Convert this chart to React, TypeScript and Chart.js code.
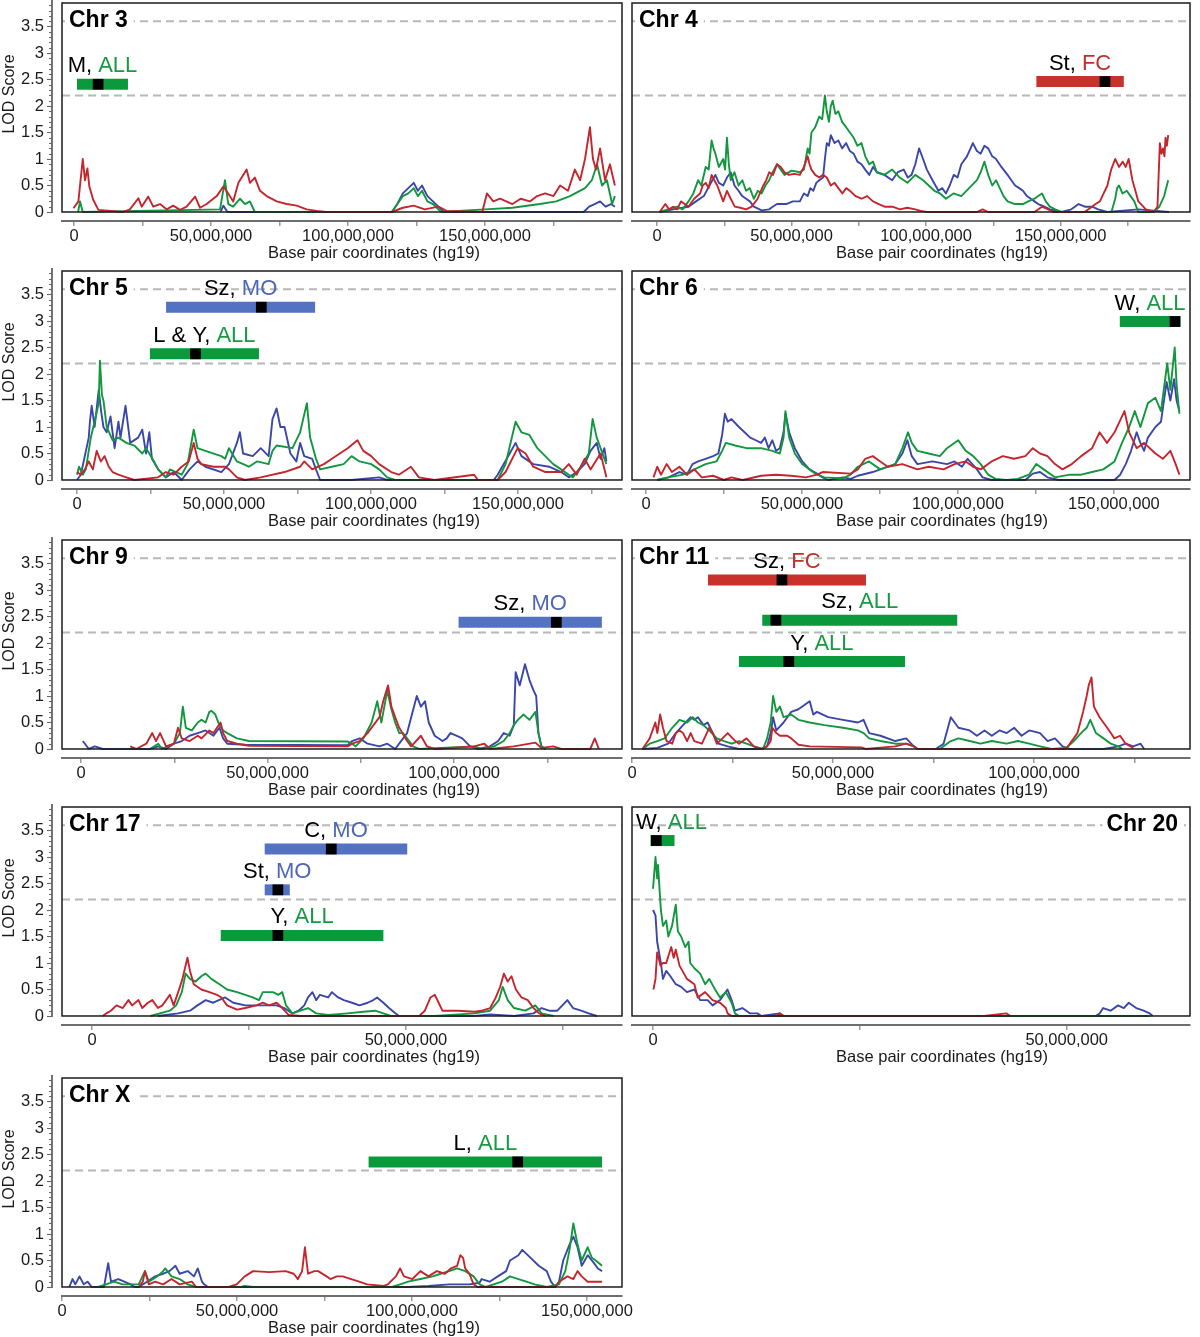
import React, { useEffect, useRef } from 'react';
import { Chart, registerables } from 'chart.js';

Chart.register(...registerables);

const FONT = '"Liberation Sans", Arial, Helvetica, sans-serif';
Chart.defaults.font.family = FONT;

type Pt = [number, number];
type Qtl = { start: number; end: number; peak: number; lod: number; trait: string; group: 'ALL' | 'FC' | 'MO' };

// ---------------- data (x in Mb, y = LOD) ----------------
const chr3Range = [-4.38, 200.0];
const chr3Red: Pt[] = [[-0.2,0.07],[1.6,0.2],[3.2,1.0],[4.0,0.6],[4.9,0.82],[5.6,0.48],[7.0,0.23],[8.9,0.04],[18,0],[20.4,0.05],[23.5,0.26],[24.7,0.1],[27.1,0.29],[28.9,0.1],[31.4,0.15],[33.8,0.05],[36.2,0.12],[38.7,0.04],[41.1,0.1],[44.2,0.29],[46,0.08],[48.4,0.15],[52.1,0.3],[54.5,0.48],[56.3,0.35],[58.1,0.2],[60,0.55],[63,0.8],[64.2,0.55],[66,0.65],[67.9,0.4],[70.3,0.3],[74,0.2],[77.6,0.15],[81.3,0.12],[84.9,0.05],[88.6,0.02],[92,0],[116,0],[120,0.08],[124,0.12],[128,0.05],[133,0.1],[136,0.02],[149,0],[150.7,0.35],[153,0.2],[155.5,0.25],[160,0.15],[163,0.25],[166.4,0.2],[169,0.3],[171.9,0.35],[175,0.3],[177.4,0.5],[180.3,0.4],[182.8,0.8],[184.7,0.6],[186.5,1.0],[188.3,1.6],[189.4,1.0],[190.5,0.8],[192,1.2],[193.8,0.6],[195.6,0.9],[197.4,0.5]];
const chr3Green: Pt[] = [[1.5,0],[2.2,0.2],[3.2,0],[53.3,0.05],[55.1,0.6],[56.3,0.15],[58.1,0.1],[60.6,0.25],[62.4,0.15],[64.2,0.2],[66,0],[116,0],[118,0.15],[120,0.3],[122,0.35],[124,0.45],[125.5,0.3],[127,0.4],[129,0.2],[131,0.15],[134,0],[150,0.05],[160,0.08],[170,0.15],[176,0.2],[181,0.3],[186.5,0.45],[189,0.6],[190.9,0.9],[192.7,0.5],[194.5,0.6],[196.4,0.15],[197.4,0.3]];
const chr3Blue: Pt[] = [[53.5,0],[54.5,0.12],[56,0],[116,0],[118,0.15],[120,0.35],[122,0.45],[124,0.55],[125.5,0.4],[127,0.5],[129,0.3],[131,0.2],[133,0.1],[135,0],[186,0],[188,0.1],[190,0.15],[192,0.2],[194,0.1],[196,0.15],[197.4,0.1]];
const chr3Qtl: Qtl[] = [{ start: 1.1, end: 19.7, peak: 8.8, lod: 2.41, trait: 'M', group: 'ALL' }];

const chr4Range = [-9.29, 198.1];
const chr4Red: Pt[] = [[1,0],[3.1,0.15],[4.5,0.05],[6,0.1],[7.5,0.05],[8.9,0.2],[10.3,0.15],[11.7,0.1],[13.8,0.25],[16,0.35],[17,0.5],[18.1,0.55],[19.2,0.45],[20.3,0.7],[21.3,0.6],[22.4,0.5],[23.5,0.35],[24.6,0.2],[25.3,0.3],[26,0.4],[27.4,0.25],[28.9,0.1],[31,0.08],[33.1,0.05],[35.2,0.1],[37.4,0.25],[39.5,0.5],[40.6,0.6],[41.7,0.75],[43.1,0.7],[44.6,0.9],[46,0.85],[47.4,0.75],[49,0.7],[51,0.72],[53.1,0.7],[54.6,0.85],[56,1.05],[56.7,0.9],[57.4,0.8],[58.8,0.7],[60.3,0.65],[61.7,0.7],[63.1,0.65],[64.6,0.5],[66,0.55],[67.4,0.45],[68.9,0.35],[70.3,0.45],[71.7,0.4],[73.8,0.3],[76,0.25],[78.1,0.3],[80.3,0.2],[82.4,0.15],[84.6,0.1],[87.5,0.1],[90.3,0.05],[93,0.08],[96,0.05],[98,0.02],[100.3,0],[118.9,0],[121,0.05],[123.1,0],[140.3,0],[143.1,0.1],[147.4,0],[158.9,0],[161.7,0.1],[163,0.15],[164.6,0.2],[166,0.35],[167.4,0.5],[168.8,0.8],[170.3,1.0],[171.7,0.85],[173.1,0.95],[174.2,0.85],[175.3,1.0],[176.7,0.6],[177.8,0.4],[178.9,0.2],[181.7,0.05],[184.6,0],[186,0.1],[186.9,1.3],[187.5,1.1],[188.1,1.2],[188.6,1.05],[189,1.4],[189.5,1.25],[190,1.45]];
const chr4Green: Pt[] = [[1,0],[4,0.05],[7.4,0.1],[9.5,0.05],[11.7,0.2],[13.5,0.35],[15.3,0.6],[16.5,0.5],[18.1,0.85],[19.2,0.8],[20.3,1.35],[21,1.2],[21.7,1.1],[23,0.85],[24.6,1.0],[25.3,0.8],[26,1.4],[26.7,0.9],[27.4,0.6],[28.8,0.75],[30.3,0.5],[31.7,0.6],[33.1,0.4],[34.5,0.45],[36,0.25],[37.5,0.4],[38.9,0.35],[40.3,0.5],[41.7,0.6],[43,0.75],[44.6,0.9],[46,0.8],[47.4,0.7],[50,0.78],[53.1,0.75],[54.6,0.8],[55.3,1.0],[56,1.2],[56.7,1.1],[57.4,1.5],[58.8,1.6],[60.3,1.8],[61.4,1.75],[62.4,2.2],[63.1,1.9],[63.9,1.7],[64.6,2.0],[65.3,2.1],[66.3,1.85],[67.4,1.9],[68.8,1.7],[70.3,1.6],[71.7,1.5],[73.1,1.4],[74.5,1.25],[76,1.3],[77.4,1.05],[78.9,0.9],[80.3,0.95],[81.7,0.75],[84.5,0.7],[87.4,0.8],[90.2,0.65],[93.1,0.55],[96,0.7],[98.9,0.6],[101,0.5],[103.1,0.4],[105.2,0.35],[107.4,0.25],[110.2,0.35],[113.1,0.3],[116,0.45],[118.9,0.6],[120.3,0.75],[121.7,0.95],[123.1,0.7],[124.6,0.5],[126,0.6],[127.4,0.45],[128.8,0.3],[130.3,0.2],[133,0.15],[136,0.15],[138,0.2],[140.3,0.25],[141.7,0.3],[143.1,0.35],[144.5,0.2],[146,0.1],[148,0.05],[150.3,0],[168.9,0],[170.3,0.25],[171,0.45],[171.7,0.5],[173,0.35],[174.6,0.4],[176,0.3],[177.4,0.2],[178.9,0],[184.6,0],[186.7,0.1],[188.5,0.3],[190,0.6]];
const chr4Blue: Pt[] = [[1,0],[6,0.05],[11.7,0.1],[14.5,0.2],[17.4,0.3],[19.5,0.5],[21.7,0.7],[23,0.55],[24.6,0.5],[26,0.65],[27.4,0.75],[28.8,0.5],[30.3,0.4],[31.7,0.3],[33.1,0.25],[34.5,0.2],[36,0.1],[38.9,0.03],[41.7,0.05],[43,0.1],[44.6,0.15],[48,0.15],[50.5,0.2],[53.1,0.2],[54.6,0.35],[56,0.3],[57,0.45],[58.1,0.4],[59.2,0.55],[60.3,0.6],[61.7,0.65],[62.4,1.0],[63.1,1.3],[63.9,1.25],[64.6,1.45],[66,1.3],[67.4,1.35],[68.8,1.2],[70.3,1.3],[71.7,1.15],[73.1,1.1],[74.5,0.95],[76,0.9],[77.4,0.8],[78.9,0.7],[80.3,0.85],[81.7,0.75],[84.5,0.7],[87.4,0.6],[89.5,0.75],[91.7,0.8],[93.2,0.65],[94.6,0.7],[96,0.9],[97.4,1.2],[98.9,1.0],[100.3,0.8],[102.4,0.6],[104.6,0.4],[106,0.45],[107.4,0.35],[108.8,0.5],[110.3,0.7],[111.7,0.65],[113.1,0.9],[115.2,1.05],[117.4,1.3],[118.9,1.15],[120.3,1.1],[121.7,1.25],[123.1,1.2],[124.6,1.05],[126,1.0],[128,0.85],[130.3,0.7],[131.7,0.6],[133.1,0.5],[134.6,0.45],[136,0.4],[137.5,0.3],[138.9,0.25],[140.3,0.2],[141.7,0.15],[144,0.1],[146,0.05],[150.3,0],[154,0.05],[156.7,0.15],[159,0.1],[161.7,0.1],[164,0.05],[167.4,0],[178.9,0.05],[190.3,0]];
const chr4Qtl: Qtl[] = [{ start: 141, end: 173.5, peak: 166.5, lod: 2.46, trait: 'St', group: 'FC' }];

const chr5Range = [-5.1, 185.4];
const chr5Red: Pt[] = [[0,0.15],[1.3,0.1],[2.7,0.2],[4.0,0.35],[5.4,0.2],[6.7,0.55],[8.1,0.35],[9.4,0.45],[10.8,0.25],[12.1,0.15],[14.1,0.1],[16.8,0.05],[19.5,0],[27.6,0.05],[30.2,0.15],[32.9,0.1],[35.6,0.25],[38.0,0.35],[39.7,0.7],[41.0,0.4],[42.3,0.3],[46.4,0.25],[50.4,0.25],[51.7,0.2],[54.4,0.05],[57.1,0],[62.5,0.05],[70.6,0.15],[75.9,0.25],[77.3,0.35],[80.0,0.2],[84.0,0.3],[86.7,0.4],[89.4,0.5],[92.1,0.6],[95.4,0.75],[97.4,0.55],[100.1,0.45],[102.8,0.3],[106.9,0.15],[109.5,0.1],[113.6,0.25],[116.3,0.05],[121.6,0],[135.1,0.1],[136.4,0],[143.1,0],[145.8,0.15],[148.5,0.45],[149.9,0.6],[152.6,0.5],[155.2,0.25],[159.3,0.15],[164.7,0.15],[167.3,0.3],[170.0,0.1],[172.7,0.4],[174.7,0.2],[178.1,0.5],[180.1,0.05]];
const chr5Green: Pt[] = [[0,0.1],[0.7,0.25],[2.0,0.1],[3.0,0.2],[4.7,0.8],[6.0,1.1],[7.4,1.45],[7.8,2.25],[8.5,1.6],[9.0,1.5],[10.1,1.0],[12.1,0.75],[14.1,0.8],[16.8,0.7],[19.5,0.65],[22.2,0.5],[23.5,0.6],[26.2,0.35],[27.6,0.2],[30.2,0.05],[31.6,0.2],[35.6,0.1],[37.6,0.3],[39.7,0.95],[41.0,0.6],[43.7,0.55],[49.1,0.45],[50.4,0.4],[51.7,0.6],[54.4,0.35],[58.5,0.25],[61.2,0.35],[65.2,0.3],[66.5,0.55],[67.9,0.65],[73.3,0.6],[75.9,0.9],[78.2,1.45],[79.3,0.8],[81.3,0.4],[82.7,0.2],[86.7,0.25],[90.7,0.3],[93.4,0.45],[96.1,0.35],[100.1,0.3],[102.8,0.2],[105.5,0.05],[108.2,0],[143.1,0],[145.8,0.3],[149.2,1.1],[151.2,0.9],[153.9,0.85],[156.6,0.6],[159.3,0.45],[162.0,0.3],[164.7,0.2],[167.3,0.1],[168.7,0.05],[171.4,0.25],[174.1,0.5],[175.4,1.15],[176.8,0.8],[180.1,0.3]];
const chr5Blue: Pt[] = [[0,0],[1.3,0.1],[4.0,0.8],[4.4,1.1],[5.0,1.4],[6.0,1.0],[7.4,1.7],[8.2,1.3],[9.0,1.0],[10.1,0.9],[11.4,1.2],[12.8,0.6],[14.1,1.1],[14.8,0.8],[16.5,1.4],[18.1,0.7],[20.8,0.8],[22.2,0.95],[23.5,0.5],[24.6,0.9],[25.5,0.4],[27.6,0.2],[30.2,0.05],[32.9,0.15],[35.6,0],[38.3,0.2],[41.0,0.35],[43.7,0.25],[49.1,0.15],[51.7,0.3],[54.4,0.7],[55.4,0.9],[56.5,0.5],[59.8,0.45],[62.5,0.6],[65.2,0.45],[66.5,1.15],[67.9,1.35],[69.2,1.0],[70.6,1.0],[72.6,0.5],[74.6,0.35],[75.9,0.7],[77.3,0.45],[80.0,0.4],[81.3,0.2],[82.7,0],[93.4,0],[102.8,0.05],[105.5,0],[141.8,0],[143.1,0.1],[147.2,0.5],[149.2,0.7],[151.2,0.45],[155.2,0.3],[160.6,0.25],[164.7,0.15],[167.3,0.05],[170.0,0.15],[172.7,0.3],[174.7,0.55],[176.8,0.7],[178.1,0.4],[179.4,0.6],[180.1,0.35]];
const chr5Qtl: Qtl[] = [
  { start: 30.3, end: 81, peak: 62.7, lod: 3.26, trait: 'Sz', group: 'MO' },
  { start: 24.8, end: 61.9, peak: 40.3, lod: 2.38, trait: 'L & Y', group: 'ALL' },
];

const chr6Range = [-4.49, 174.4];
const chr6Red: Pt[] = [[2.4,0.05],[3.6,0.25],[4.8,0.1],[6.6,0.3],[8.3,0.15],[10.7,0.25],[13.1,0.1],[15.5,0.2],[17.9,0.05],[21.5,0.08],[25.0,0],[27.4,0.05],[31.0,0],[36.9,0.08],[41.7,0.1],[46.5,0.08],[51.3,0.05],[54.8,0.1],[56.6,0.15],[65.6,0.12],[67.9,0.2],[70.3,0.4],[72.7,0.45],[75.1,0.35],[77.5,0.25],[82.2,0.3],[87.0,0.2],[90.6,0.25],[95.4,0.2],[98.9,0.3],[102.5,0.35],[104.9,0.25],[107.3,0.2],[110.8,0.35],[114.4,0.45],[118.0,0.4],[121.6,0.45],[124.0,0.6],[126.3,0.5],[128.7,0.45],[131.1,0.3],[133.5,0.2],[136.5,0.3],[139.5,0.45],[143.0,0.6],[145.4,0.9],[147.8,0.7],[150.2,0.9],[153.4,1.3],[154.9,0.9],[157.3,0.6],[159.7,0.7],[163.3,0.5],[165.7,0.4],[168.1,0.55],[169.8,0.3],[171.0,0.1]];
const chr6Green: Pt[] = [[3.6,0],[7.2,0.05],[11.9,0.1],[15.5,0.2],[19.1,0.3],[22.6,0.35],[24.4,0.55],[25.6,0.7],[28.6,0.65],[32.2,0.6],[36.9,0.6],[40.5,0.55],[42.9,0.5],[44.1,0.8],[44.7,1.3],[45.9,0.8],[47.7,0.5],[50.1,0.3],[52.4,0.2],[54.8,0.1],[57.2,0.05],[63.2,0.03],[65.6,0.1],[67.9,0.25],[71.5,0.35],[75.1,0.2],[79.9,0.3],[82.2,0.6],[84.0,0.9],[85.2,0.7],[87.0,0.55],[90.6,0.5],[94.2,0.45],[96.5,0.6],[100.1,0.75],[102.5,0.55],[104.9,0.45],[107.3,0.3],[109.7,0.1],[112.0,0.02],[115.6,0],[119.2,0.02],[122.8,0.1],[125.1,0.3],[127.5,0.2],[131.1,0.05],[135.9,0.1],[139.5,0.1],[143.0,0.15],[146.6,0.2],[150.2,0.35],[152.6,0.7],[154.9,1.0],[156.7,1.3],[158.5,1.0],[160.9,1.45],[163.3,1.55],[165.1,1.3],[167.1,2.2],[168.1,1.7],[169.5,2.5],[170.1,1.8],[171.0,1.25]];
const chr6Blue: Pt[] = [[3.6,0],[7.2,0.05],[10.7,0.15],[13.1,0.1],[14.9,0.3],[16.7,0.35],[19.1,0.4],[21.5,0.45],[23.2,0.5],[24.4,0.85],[25.3,1.25],[26.2,1.1],[27.4,1.15],[29.8,1.0],[31.6,0.9],[33.4,0.8],[35.2,0.75],[36.9,0.7],[38.1,0.8],[39.3,0.6],[40.5,0.75],[41.7,0.55],[42.9,0.6],[44.1,0.9],[44.7,1.25],[45.9,0.9],[47.7,0.6],[50.1,0.35],[52.4,0.2],[54.8,0.12],[56.6,0.05],[58.4,0],[63.2,0.05],[65.6,0.02],[67.9,0.08],[72.7,0.15],[75.1,0.2],[79.9,0.3],[82.2,0.5],[83.8,0.75],[85.2,0.45],[87.0,0.3],[91.8,0.35],[96.5,0.3],[98.9,0.35],[101.3,0.25],[103.1,0.4],[106.1,0.2],[107.9,0.05],[110.8,0],[121.6,0],[124.0,0.12],[126.3,0.15],[128.7,0.05],[132.3,0],[150.2,0],[152.0,0.1],[153.8,0.3],[155.5,0.55],[157.3,0.9],[158.5,0.7],[159.7,0.55],[160.9,0.8],[163.3,1.0],[165.1,1.1],[166.9,1.85],[168.1,1.5],[169.3,1.9],[170.1,1.5],[171.0,1.3]];
const chr6Qtl: Qtl[] = [{ start: 151.9, end: 171.3, peak: 169.6, lod: 2.99, trait: 'W', group: 'ALL' }];

const chr9Range = [-5.09, 145.0];
const chr9Red: Pt[] = [[13.2,0.05],[14.8,0],[17.5,0.1],[19.1,0.3],[20.1,0.15],[21.2,0.3],[22.8,0.05],[24.9,0.1],[26.0,0.4],[27.0,0.2],[29.1,0.15],[31.3,0.25],[32.3,0.2],[34.4,0.35],[35.5,0.3],[37.4,0.5],[38.1,0.3],[39.2,0.15],[41.8,0.1],[45.0,0.06],[71.5,0.05],[72.6,0.1],[74.7,0.15],[76.8,0.3],[78.4,0.45],[80.0,0.6],[81.0,0.9],[82.3,1.2],[83.2,0.8],[84.2,0.6],[85.3,0.4],[87.4,0.15],[88.5,0.05],[91.1,0.25],[92.7,0.05],[94.8,0],[105.4,0.05],[108.1,0.1],[109.6,0],[116.0,0.05],[121.8,0.12],[123.4,0.02],[126.6,0.05],[128.7,0],[136.5,0],[137.7,0.2],[138.8,0]];
const chr9Green: Pt[] = [[18.5,0],[20.7,0.1],[21.7,0],[24.9,0.1],[26.5,0.3],[27.3,0.8],[28.1,0.4],[29.7,0.35],[31.3,0.5],[32.3,0.55],[33.4,0.5],[34.4,0.7],[35.0,0.72],[36.0,0.65],[37.1,0.45],[38.1,0.35],[39.2,0.3],[41.8,0.2],[45.0,0.15],[71.5,0.14],[72.6,0.1],[73.6,0.05],[75.7,0.2],[77.9,0.5],[79.4,0.9],[80.5,0.5],[82.1,1.1],[83.2,0.75],[84.2,0.5],[85.3,0.3],[86.3,0.3],[87.4,0.2],[89.0,0.05],[90.6,0],[105.4,0.05],[107.5,0],[110.7,0.05],[113.3,0.15],[114.9,0.3],[116.0,0.45],[117.1,0.55],[118.6,0.65],[120.2,0.55],[121.8,0.7],[122.6,0.3],[123.4,0.05],[124.5,0]];
const chr9Blue: Pt[] = [[0.5,0.15],[2.1,0],[3.7,0.05],[5.8,0],[18.5,0],[20.7,0.05],[22.8,0],[24.9,0.1],[27.0,0.15],[29.1,0.25],[31.3,0.3],[33.4,0.35],[35.5,0.25],[37.1,0.4],[38.1,0.2],[39.2,0.1],[44.0,0.08],[71.5,0.07],[72.6,0.15],[74.7,0.2],[76.8,0.1],[80.0,0.05],[82.1,0.1],[84.2,0],[87.4,0.3],[88.5,0.6],[90.0,1.0],[91.1,0.8],[92.2,0.9],[93.2,0.5],[94.8,0.25],[96.9,0.15],[98.0,0.2],[99.0,0.3],[100.6,0.25],[102.2,0.2],[104.3,0.05],[106.5,0],[109.6,0.05],[111.8,0.15],[113.3,0.3],[114.9,0.25],[116.0,0.45],[116.5,1.45],[117.6,1.2],[119.0,1.6],[120.2,1.3],[121.3,1.1],[122.0,1.0],[122.6,0.3],[123.4,0.05],[124.5,0]];
const chr9Qtl: Qtl[] = [{ start: 101.2, end: 139.6, peak: 127.4, lod: 2.39, trait: 'Sz', group: 'MO' }];

const chr11Range = [0, 138.8];
const chr11Red: Pt[] = [[2.6,0],[3.5,0.1],[4.4,0.2],[5.8,0.5],[6.3,0.3],[7.0,0.65],[7.7,0.4],[8.6,0.15],[10.0,0.1],[10.9,0.3],[11.8,0.35],[12.7,0.3],[13.7,0.15],[14.6,0.3],[15.5,0.15],[17.4,0.1],[19.2,0.4],[20.1,0.3],[21.1,0.1],[22.5,0.2],[23.8,0.3],[25.7,0.15],[26.6,0.1],[28.5,0.2],[30.3,0.05],[32.2,0],[33.6,0.05],[34.5,0.15],[34.9,0.4],[35.9,0.3],[36.8,0.25],[38.6,0.25],[39.6,0.2],[41.4,0.08],[44.2,0.05],[57.1,0.03],[58.1,0],[65.5,0.05],[68.2,0.1],[70.1,0.05],[71.0,0],[108.0,0],[108.9,0.1],[110.8,0.3],[112.2,0.7],[113.1,1.0],[113.6,1.2],[114.3,1.35],[114.9,0.8],[116.3,0.6],[118.2,0.4],[119.1,0.3],[120.0,0.2],[121.4,0.25],[122.8,0.1],[124.7,0.02]];
const chr11Green: Pt[] = [[2.6,0],[4.4,0.1],[6.3,0.15],[8.1,0.2],[10.0,0.4],[11.8,0.55],[13.7,0.5],[15.1,0.6],[16.4,0.5],[17.8,0.45],[19.2,0.35],[21.1,0.2],[22.9,0.15],[24.8,0.1],[26.6,0.15],[28.5,0.1],[30.3,0.05],[32.6,0],[33.6,0.2],[34.5,0.5],[35.1,1.0],[35.9,0.7],[36.8,0.8],[37.7,0.6],[39.6,0.65],[41.4,0.55],[44.2,0.5],[47.9,0.45],[52.5,0.4],[56.2,0.35],[57.6,0.3],[59.0,0.2],[61.8,0.15],[65.5,0.1],[68.2,0.1],[70.1,0.05],[71.0,0],[76.6,0],[77.5,0.05],[79.3,0.15],[81.2,0.2],[84.0,0.15],[86.7,0.1],[89.5,0.15],[93.2,0.1],[96.0,0.15],[98.8,0.1],[101.5,0.05],[104.3,0],[108.0,0.02],[109.9,0.15],[111.7,0.3],[113.1,0.4],[114.0,0.55],[115.4,0.3],[117.3,0.2],[119.1,0.1],[121.0,0.05],[121.9,0]];
const chr11Blue: Pt[] = [[2.6,0],[6.3,0.02],[9.0,0.1],[10.9,0.3],[12.7,0.45],[14.6,0.6],[15.5,0.55],[16.4,0.6],[17.8,0.45],[18.8,0.5],[20.1,0.3],[21.5,0.1],[23.8,0.05],[26.6,0],[32.2,0],[33.6,0.05],[34.5,0.3],[35.1,0.6],[35.9,0.35],[37.7,0.5],[39.6,0.7],[41.4,0.75],[44.2,0.9],[45.1,0.65],[46.0,0.7],[48.8,0.6],[52.5,0.55],[56.2,0.5],[57.6,0.55],[59.0,0.3],[61.8,0.25],[65.5,0.15],[68.2,0.2],[70.1,0.05],[71.0,0],[75.6,0],[77.5,0.1],[79.3,0.6],[81.2,0.4],[84.0,0.35],[85.8,0.25],[87.7,0.35],[89.5,0.25],[91.4,0.35],[93.2,0.3],[95.1,0.4],[96.9,0.25],[98.8,0.35],[101.5,0.3],[103.4,0.15],[105.2,0.2],[107.1,0.05],[108.9,0],[117.3,0],[121.0,0.05],[122.8,0.1],[124.7,0.05],[126.5,0.1],[127.4,0]];
const chr11Qtl: Qtl[] = [
  { start: 18.9, end: 58.2, peak: 37.3, lod: 3.19, trait: 'Sz', group: 'FC' },
  { start: 32.4, end: 80.9, peak: 35.8, lod: 2.43, trait: 'Sz', group: 'ALL' },
  { start: 26.6, end: 67.9, peak: 39.0, lod: 1.65, trait: 'Y', group: 'ALL' },
];

const chr17Range = [-4.78, 84.4];
const chr17Red: Pt[] = [[1.7,0],[2.3,0.05],[3.0,0.1],[3.9,0.2],[4.9,0.15],[5.8,0.3],[6.4,0.2],[7.4,0.3],[8.0,0.15],[8.9,0.25],[9.6,0.3],[10.5,0.15],[11.2,0.2],[11.8,0.3],[12.4,0.4],[13.0,0.2],[14.0,0.55],[14.4,0.7],[15.2,1.1],[15.6,0.85],[16.2,0.6],[17.4,0.5],[18.7,0.45],[19.9,0.4],[20.6,0.35],[21.5,0.2],[23.1,0.12],[24.4,0.15],[26.2,0.2],[27.2,0.25],[28.2,0.2],[29.4,0.25],[30.3,0.15],[31.3,0.02],[33.2,0],[52.1,0],[53.0,0.1],[53.9,0.35],[54.6,0.4],[55.2,0.25],[55.8,0.1],[58.3,0.1],[60.9,0.08],[62.1,0.1],[63.4,0.15],[64.3,0.35],[65.0,0.55],[65.6,0.8],[66.2,0.65],[66.8,0.75],[67.5,0.5],[68.4,0.35],[69.4,0.3],[70.3,0.15],[71.2,0.05],[72.2,0]];
const chr17Green: Pt[] = [[9.3,0],[12.4,0.1],[13.4,0.2],[14.3,0.45],[14.9,0.8],[15.6,0.7],[16.5,0.65],[17.4,0.75],[18.1,0.8],[19.0,0.7],[20.3,0.6],[21.5,0.5],[23.1,0.45],[24.4,0.4],[25.6,0.35],[26.6,0.3],[27.2,0.45],[28.8,0.45],[29.7,0.4],[30.3,0.45],[30.9,0.2],[31.9,0.05],[33.2,0.1],[34.4,0.15],[35.7,0.05],[37.6,0.02],[40.7,0.05],[43.2,0.08],[45.1,0.1],[46.4,0.05],[47.6,0],[54.6,0],[60.9,0.05],[63.4,0.1],[64.8,0.3],[65.4,0.55],[66.2,0.3],[67.2,0.15],[69.0,0.1],[70.6,0.2],[71.6,0.05],[73.5,0]];
const chr17Blue: Pt[] = [[10.5,0],[13.7,0.05],[15.6,0.1],[16.8,0.2],[18.1,0.3],[19.3,0.25],[21.2,0.35],[22.5,0.25],[24.4,0.2],[29.4,0.2],[30.6,0.15],[31.9,0.05],[32.9,0.1],[33.8,0.2],[34.4,0.35],[35.1,0.45],[35.7,0.3],[36.3,0.4],[37.6,0.35],[38.2,0.45],[39.2,0.35],[40.1,0.3],[41.4,0.25],[42.6,0.2],[43.9,0.25],[44.8,0.3],[45.4,0.35],[46.4,0.25],[47.3,0.15],[48.3,0.05],[48.9,0],[60.9,0],[63.4,0.03],[67.2,0],[70.3,0.05],[71.6,0.15],[72.8,0.1],[74.1,0.1],[75.7,0.3],[76.6,0.15],[77.9,0.1],[79.1,0.05],[80.4,0]];
const chr17Qtl: Qtl[] = [
  { start: 27.5, end: 50.2, peak: 38.1, lod: 3.15, trait: 'C', group: 'MO' },
  { start: 27.5, end: 31.5, peak: 29.6, lod: 2.38, trait: 'St', group: 'MO' },
  { start: 20.5, end: 46.4, peak: 29.6, lod: 1.52, trait: 'Y', group: 'ALL' },
];

const chr20Range = [-2.54, 64.9];
const chr20Red: Pt[] = [[0.05,0.5],[0.3,0.7],[0.5,1.2],[0.9,0.95],[1.2,1.0],[1.6,1.0],[2.2,1.3],[2.5,1.1],[2.75,1.25],[3.2,0.95],[4.1,0.7],[5.0,0.6],[5.4,0.35],[6.3,0.45],[7.2,0.3],[8.1,0.25],[8.8,0.15],[9.0,0.05],[9.5,0],[14.9,0],[15.3,0.05],[15.8,0],[40.0,0],[42.7,0.05],[43.2,0]];
const chr20Green: Pt[] = [[0,2.4],[0.3,3.0],[0.5,2.6],[0.6,2.85],[0.95,2.0],[1.2,1.7],[1.6,1.8],[1.85,1.5],[2.3,1.7],[2.75,2.1],[3.0,1.6],[3.4,1.5],[3.9,1.3],[4.3,1.4],[4.5,1.0],[5.0,0.9],[5.7,0.8],[6.3,0.6],[6.8,0.7],[7.5,0.5],[8.1,0.35],[8.8,0.45],[9.5,0.25],[9.9,0.05],[10.4,0],[60,0]];
const chr20Blue: Pt[] = [[0,2.0],[0.3,1.9],[0.5,1.4],[0.95,1.0],[1.2,0.7],[1.6,0.85],[2.1,0.75],[2.75,0.6],[3.4,0.55],[4.1,0.45],[5.0,0.5],[5.7,0.3],[6.6,0.3],[7.2,0.2],[8.1,0.3],[9.0,0.5],[9.5,0.3],[9.9,0.1],[10.8,0.15],[11.7,0.05],[12.6,0.05],[13.1,0],[15.3,0.05],[15.8,0],[53.5,0],[54.0,0.05],[54.4,0.15],[55.3,0.1],[56.2,0.2],[56.9,0.15],[57.5,0.25],[58.4,0.15],[59.3,0.1],[60.0,0.05],[60.4,0]];
const chr20Qtl: Qtl[] = [{ start: -0.3, end: 2.6, peak: 0.4, lod: 3.31, trait: 'W', group: 'ALL' }];

const chrXRange = [0, 160];
const chrXRed: Pt[] = [[21.9,0],[23.1,0.1],[23.7,0.3],[24.8,0.05],[26.6,0.1],[28.9,0.05],[31.3,0.15],[33.6,0.05],[37.1,0.1],[38.3,0],[47.6,0],[49.9,0.05],[52.2,0.2],[54.6,0.3],[59.2,0.28],[63.9,0.3],[66.2,0.25],[67.4,0.15],[68.6,0.3],[69.4,0.75],[70.3,0.25],[72.1,0.3],[73.2,0.3],[75.6,0.2],[76.7,0.15],[78.5,0.2],[80.2,0.2],[82.6,0.15],[84.9,0.1],[87.2,0.05],[91.9,0.02],[93.1,0.05],[95.4,0.2],[96.6,0.35],[97.7,0.2],[100.1,0.15],[102.4,0.3],[104.7,0.2],[107.1,0.3],[109.4,0.25],[111.1,0.35],[112.9,0.4],[113.8,0.6],[114.6,0.55],[115.2,0.35],[116.4,0.25],[117.6,0.05],[118.7,0],[140.9,0],[142.0,0.1],[144.4,0.2],[146.1,0.15],[147.3,0.3],[148.5,0.2],[150.2,0.1],[154.3,0.1]];
const chrXGreen: Pt[] = [[10.3,0],[12.6,0.05],[14.9,0.1],[17.3,0.05],[21.9,0.05],[23.7,0.3],[24.8,0.1],[27.2,0.2],[28.9,0.3],[29.5,0.35],[31.3,0.2],[33.6,0.15],[35.9,0.05],[38.3,0],[51.1,0],[52.2,0.02],[54.6,0],[94.2,0],[96.6,0.05],[98.9,0.1],[102.4,0.15],[105.9,0.2],[108.2,0.25],[110.6,0.3],[112.9,0.35],[115.2,0.3],[117.6,0.2],[119.3,0.05],[121.0,0],[125.7,0.1],[128.0,0.2],[130.4,0.15],[132.7,0.1],[135.0,0.05],[138.5,0],[142.0,0.05],[143.8,0.3],[145.0,0.7],[146.1,1.2],[147.3,0.8],[148.5,0.5],[150.2,0.75],[151.4,0.55],[152.5,0.5],[154.3,0.4]];
const chrXBlue: Pt[] = [[2.1,0],[3.0,0.15],[3.8,0.05],[5.0,0.2],[6.2,0.05],[7.3,0.1],[8.5,0],[12.0,0],[13.2,0.45],[14.0,0.1],[16.1,0.15],[17.8,0.1],[19.6,0.05],[20.8,0],[21.9,0],[24.3,0.1],[26.6,0.2],[28.9,0.25],[30.7,0.3],[32.4,0.4],[33.6,0.25],[35.9,0.3],[37.7,0.2],[38.8,0.35],[40.0,0.1],[40.6,0.05],[41.7,0],[98.9,0],[104.7,0.02],[110.6,0.05],[116.4,0.05],[119.3,0.08],[119.9,0.15],[122.2,0.1],[124.5,0.2],[126.9,0.3],[128.0,0.5],[130.4,0.6],[131.5,0.7],[133.9,0.55],[136.2,0.4],[138.5,0.3],[139.7,0.1],[140.9,0],[142.0,0.1],[143.2,0.5],[145.0,0.8],[146.1,0.95],[147.3,0.75],[148.5,0.4],[150.2,0.6],[152.0,0.45],[153.1,0.35],[154.3,0.3]];
const chrXQtl: Qtl[] = [{ start: 87.6, end: 154.3, peak: 130.2, lod: 2.36, trait: 'L', group: 'ALL' }];

const LOD_THRESHOLDS = [3.6, 2.2];
const Y_TICKS = [0, 0.5, 1, 1.5, 2, 2.5, 3, 3.5];
const Y_RANGE = [-0.17, 3.943];
const X_TICK_STEP = 25;
const X_LABEL_STEP = 50;

const SERIES_COLORS: any = { red: '#c4262e', green: '#12973f', blue: '#3b47a8' };
const BAR_COLORS: any = { ALL: '#0a993b', FC: '#c8322b', MO: '#5472c2' };
const TEXT_COLORS: any = { ALL: '#189a44', FC: '#c0302b', MO: '#4d66b8' };

const ROW_Y0 = [212, 480, 749, 1016, 1287];

const panels = [
  { title: 'Chr 3', col: 0, row: 0, range: chr3Range, red: chr3Red, green: chr3Green, blue: chr3Blue, qtl: chr3Qtl },
  { title: 'Chr 4', col: 1, row: 0, range: chr4Range, red: chr4Red, green: chr4Green, blue: chr4Blue, qtl: chr4Qtl },
  { title: 'Chr 5', col: 0, row: 1, range: chr5Range, red: chr5Red, green: chr5Green, blue: chr5Blue, qtl: chr5Qtl },
  { title: 'Chr 6', col: 1, row: 1, range: chr6Range, red: chr6Red, green: chr6Green, blue: chr6Blue, qtl: chr6Qtl },
  { title: 'Chr 9', col: 0, row: 2, range: chr9Range, red: chr9Red, green: chr9Green, blue: chr9Blue, qtl: chr9Qtl },
  { title: 'Chr 11', col: 1, row: 2, range: chr11Range, red: chr11Red, green: chr11Green, blue: chr11Blue, qtl: chr11Qtl },
  { title: 'Chr 17', col: 0, row: 3, range: chr17Range, red: chr17Red, green: chr17Green, blue: chr17Blue, qtl: chr17Qtl },
  { title: 'Chr 20', col: 1, row: 3, range: chr20Range, red: chr20Red, green: chr20Green, blue: chr20Blue, qtl: chr20Qtl, titleRight: true },
  { title: 'Chr X', col: 0, row: 4, range: chrXRange, red: chrXRed, green: chrXGreen, blue: chrXBlue, qtl: chrXQtl },
];

const CANVAS_H = 262;

function geometry(p: any) {
  const isLeft = p.col === 0;
  return {
    isLeft,
    canvasLeft: isLeft ? 0 : 624,
    canvasW: isLeft ? 640 : 576,
    canvasTop: ROW_Y0[p.row] - 212,
    boxLeft: isLeft ? 62 : 632,
    boxRight: isLeft ? 622 : 1190,
  };
}

function buildConfig(p: any) {
  const g = geometry(p);
  const [xMin, xMax] = p.range;
  const datasets: any[] = [];
  p.qtl.forEach((q: Qtl) =>
    datasets.push({
      label: 'peak',
      data: [{ x: q.peak, y: q.lod }],
      showLine: false,
      pointStyle: 'rect',
      pointRadius: 7.6,
      pointBackgroundColor: '#000',
      pointBorderColor: '#000',
      pointBorderWidth: 0,
      borderWidth: 0,
    })
  );
  p.qtl.forEach((q: Qtl) =>
    datasets.push({
      label: 'interval',
      data: [{ x: q.start, y: q.lod }, { x: q.end, y: q.lod }],
      borderColor: BAR_COLORS[q.group],
      borderWidth: 11,
      borderCapStyle: 'butt',
      pointRadius: 0,
      fill: false,
    })
  );
  ['red', 'green', 'blue'].forEach((k) =>
    datasets.push({
      label: k,
      data: (p[k] as Pt[]).map(([x, y]) => ({ x, y })),
      borderColor: SERIES_COLORS[k],
      borderWidth: 1.9,
      pointRadius: 0,
      fill: false,
      tension: 0,
      borderJoinStyle: 'round',
    })
  );
  LOD_THRESHOLDS.forEach((t) =>
    datasets.push({
      label: 'threshold',
      data: [{ x: xMin, y: t }, { x: xMax, y: t }],
      borderColor: '#b8b8b8',
      borderWidth: 2,
      borderDash: [8, 5],
      pointRadius: 0,
      fill: false,
    })
  );

  const overlay = {
    id: 'overlay',
    afterDatasetsDraw(chart: any) {
      const { ctx, chartArea: ca, scales } = chart;
      const xs = scales.x;
      const ys = scales.y;
      const y0 = ys.getPixelForValue(0);
      const top = ca.top;
      ctx.save();
      ctx.strokeStyle = '#1b1b1b';
      ctx.lineWidth = 1.5;
      ctx.setLineDash([]);
      ctx.strokeRect(ca.left, top, ca.right - ca.left, y0 - top);
      ctx.font = `bold 23px ${FONT}`;
      ctx.textAlign = 'left';
      ctx.textBaseline = 'alphabetic';
      const tw = ctx.measureText(p.title).width;
      const tx = p.titleRight ? ca.right - 12 - tw : ca.left + 7;
      ctx.fillStyle = '#fff';
      ctx.fillRect(tx - 4, top + 2, tw + 10, 26);
      ctx.fillStyle = '#000';
      ctx.fillText(p.title, tx, top + 24);
      ctx.font = `22px ${FONT}`;
      p.qtl.forEach((q: Qtl) => {
        const a = q.trait + ', ';
        const wa = ctx.measureText(a).width;
        const wb = ctx.measureText(q.group).width;
        const total = wa + wb;
        let cx = (xs.getPixelForValue(q.start) + xs.getPixelForValue(q.end)) / 2;
        cx = Math.min(Math.max(cx, ca.left + 4 + total / 2), ca.right - 2 - total / 2);
        const by = ys.getPixelForValue(q.lod) - 12;
        const lx = cx - total / 2;
        ctx.fillStyle = '#000';
        ctx.fillText(a, lx, by);
        ctx.fillStyle = TEXT_COLORS[q.group];
        ctx.fillText(q.group, lx + wa, by);
      });
      ctx.restore();
    },
    afterDraw(chart: any) {
      const { ctx, chartArea: ca, scales } = chart;
      const ys = scales.y;
      const y0 = ys.getPixelForValue(0);
      ctx.save();
      if (g.isLeft) {
        const ax = ca.left - 10;
        ctx.strokeStyle = '#444';
        ctx.lineWidth = 1.5;
        ctx.beginPath();
        ctx.moveTo(ax, ca.top - 3);
        ctx.lineTo(ax, y0 + 1);
        ctx.stroke();
        ctx.lineWidth = 1.1;
        ctx.strokeStyle = '#666';
        for (let i = 0; i <= 39; i++) {
          const py = Math.round(ys.getPixelForValue(i / 10)) + 0.5;
          const len = i % 5 === 0 ? 5 : 3;
          ctx.beginPath();
          ctx.moveTo(ax - len, py);
          ctx.lineTo(ax, py);
          ctx.stroke();
        }
        ctx.save();
        ctx.translate(10, y0 - 118);
        ctx.rotate(-Math.PI / 2);
        ctx.font = `16px ${FONT}`;
        ctx.fillStyle = '#1a1a1a';
        ctx.textAlign = 'center';
        ctx.textBaseline = 'middle';
        ctx.fillText('LOD Score', 0, 0);
        ctx.restore();
      }
      ctx.font = `16.5px ${FONT}`;
      ctx.fillStyle = '#1a1a1a';
      ctx.textAlign = 'center';
      ctx.textBaseline = 'middle';
      ctx.fillText('Base pair coordinates (hg19)', ca.left + (g.isLeft ? 312 : 310), y0 + 41);
      ctx.restore();
    },
  };

  return {
    type: 'line',
    data: { datasets },
    options: {
      animation: false,
      responsive: false,
      maintainAspectRatio: false,
      devicePixelRatio: 1,
      events: [],
      layout: {
        autoPadding: false,
        padding: {
          left: 0,
          right: g.canvasW - (g.boxRight - g.canvasLeft),
          top: 3,
          bottom: 0,
        },
      },
      plugins: { legend: { display: false }, tooltip: { enabled: false }, title: { display: false } },
      scales: {
        x: {
          type: 'linear',
          min: xMin,
          max: xMax,
          afterBuildTicks: (s: any) => {
            const t: any[] = [];
            for (let v = 0; v < xMax - 0.5; v += X_TICK_STEP) t.push({ value: v });
            s.ticks = t;
          },
          afterFit: (s: any) => {
            s.height = 41;
            s.paddingLeft = 0;
            s.paddingRight = 0;
          },
          grid: { drawOnChartArea: false, drawTicks: true, tickLength: 5, color: '#9a9a9a', lineWidth: 1.5 },
          border: { display: true, color: '#6e6e6e', width: 2 },
          ticks: {
            autoSkip: false,
            maxRotation: 0,
            minRotation: 0,
            padding: 1,
            color: '#1a1a1a',
            font: { size: 16.5, family: FONT },
            callback: (v: any) => (v % X_LABEL_STEP === 0 ? Number(v * 1e6).toLocaleString('en-US') : ''),
          },
        },
        y: {
          type: 'linear',
          display: g.isLeft,
          min: Y_RANGE[0],
          max: Y_RANGE[1],
          afterBuildTicks: (s: any) => {
            s.ticks = Y_TICKS.map((v) => ({ value: v }));
          },
          afterFit: (s: any) => {
            s.width = g.boxLeft - g.canvasLeft;
            s.paddingTop = 0;
            s.paddingBottom = 0;
          },
          grid: { display: false, drawTicks: false },
          border: { display: false },
          ticks: {
            padding: 18,
            color: '#1a1a1a',
            font: { size: 16.5, family: FONT },
            callback: (v: any) => String(v),
          },
        },
      },
    },
    plugins: [overlay],
  };
}

function Panel({ p }: { p: any }) {
  const ref = useRef<HTMLCanvasElement | null>(null);
  const g = geometry(p);
  useEffect(() => {
    const chart = new Chart(ref.current as HTMLCanvasElement, buildConfig(p) as any);
    return () => chart.destroy();
  }, []);
  return (
    <canvas
      ref={ref}
      width={g.canvasW}
      height={CANVAS_H}
      style={{ position: 'absolute', left: g.canvasLeft, top: g.canvasTop, width: g.canvasW, height: CANVAS_H }}
    />
  );
}

export default function App() {
  return (
    <div style={{ position: 'absolute', left: 0, top: 0, width: 1200, height: 1337, background: '#fff', overflow: 'hidden' }}>
      {panels.map((p) => (
        <Panel key={p.title} p={p} />
      ))}
    </div>
  );
}
